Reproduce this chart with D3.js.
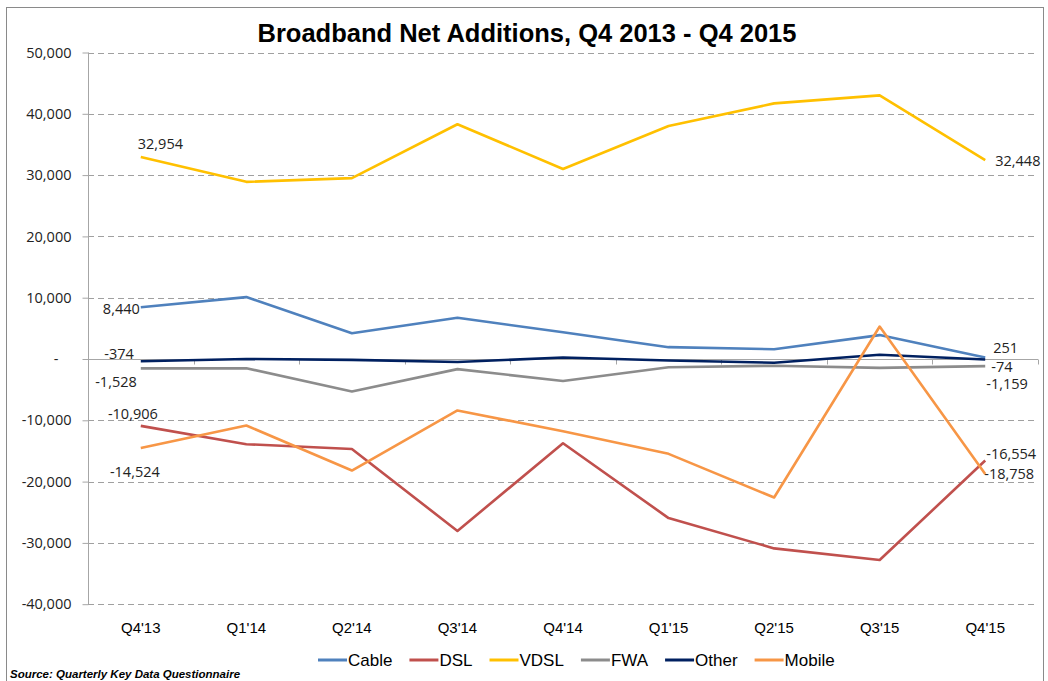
<!DOCTYPE html>
<html>
<head>
<meta charset="utf-8">
<script src="https://cdn.jsdelivr.net/npm/d3@7"></script>
<style>
  html, body { margin: 0; padding: 0; background: #fff; }
  svg { display: block; }
</style>
</head>
<body>
<svg id="chart" width="1048" height="681"></svg>
<script>
// ---------------- DATA ----------------
const categories = ["Q4'13", "Q1'14", "Q2'14", "Q3'14", "Q4'14", "Q1'15", "Q2'15", "Q3'15", "Q4'15"];
const cable  = [8440, 10100, 4200, 6720, 4370, 1930, 1600, 3900, 251];
const dsl    = [-10906, -13900, -14680, -28050, -13750, -25950, -30900, -32800, -16554];
const vdsl   = [32954, 28900, 29500, 38300, 31000, 38000, 41700, 43000, 32448];
const fwa    = [-1528, -1500, -5300, -1650, -3600, -1350, -1100, -1450, -1159];
const other  = [-374, 0, -150, -500, 250, -250, -600, 700, -74];
const mobile = [-14524, -10850, -18200, -8400, -11780, -15470, -22600, 5300, -18758];
const yTicks = [50000, 40000, 30000, 20000, 10000, 0, -10000, -20000, -30000, -40000];
const seriesNames = ["Cable", "DSL", "VDSL", "FWA", "Other", "Mobile"];
const titleText = "Broadband Net Additions, Q4 2013 - Q4 2015";
const sourceText = "Source: Quarterly Key Data Questionnaire";

const seriesValues = [cable, dsl, vdsl, fwa, other, mobile];
const colors = ["#4F81BD", "#C0504D", "#FFC000", "#8C8C8C", "#002060", "#F79646"];

// data label placement (style only): [seriesIndex, pointIndex, dx, dy, anchor]
const labelPlacement = [
  [2, 0, -3, -13, "start"],
  [0, 0, -1, 2, "end"],
  [4, 0, -7, -7, "end"],
  [3, 0, -4, 14, "end"],
  [1, 0, 17, -12, "end"],
  [5, 0, 19, 24, "end"],
  [2, 8, 10, 1, "start"],
  [0, 8, 8, -10, "start"],
  [4, 8, 6, 7, "start"],
  [3, 8, 1, 18, "start"],
  [1, 8, 1, -7, "start"],
  [5, 8, -1, 0, "start"]
];

const fmt = d3.formatLocale({ decimal: ".", thousands: ",", grouping: [3], currency: ["", ""], minus: "-" }).format(",");

// ---------------- LAYOUT ----------------
const svg = d3.select("#chart");
const plot = { left: 88, right: 1038, top: 52.5, bottom: 604.2 };

const x = d3.scaleBand().domain(categories).range([plot.left, plot.right]).padding(0);
const xc = c => x(c) + x.bandwidth() / 2;
const y = d3.scaleLinear().domain([-40000, 50000]).range([plot.bottom, plot.top]);

// chart border
svg.append("rect")
  .attr("x", 6.5).attr("y", 7.5).attr("width", 1037).attr("height", 690)
  .attr("fill", "none").attr("stroke", "#8a8a8a").attr("stroke-width", 1);

// title
svg.append("text")
  .attr("x", 527).attr("y", 42)
  .attr("text-anchor", "middle")
  .attr("font-family", "Liberation Sans, Arial, sans-serif")
  .attr("font-weight", "bold")
  .attr("font-size", 25.5)
  .attr("fill", "#000")
  .text(titleText);

// gridlines (dashed), except zero
svg.append("g").selectAll("line")
  .data(yTicks.filter(t => t !== 0))
  .join("line")
  .attr("x1", plot.left).attr("x2", plot.right)
  .attr("y1", d => Math.round(y(d)) + 0.5).attr("y2", d => Math.round(y(d)) + 0.5)
  .attr("stroke", "#a0a0a0").attr("stroke-width", 1.2)
  .attr("stroke-dasharray", "6,4");

// y axis
const yAxis = d3.axisLeft(y)
  .tickValues(yTicks)
  .tickSize(6)
  .tickPadding(11)
  .tickFormat(d => d === 0 ? "-" : fmt(d));
const gy = svg.append("g")
  .attr("transform", `translate(${plot.left + 0.5},0)`)
  .call(yAxis);
gy.select(".domain").attr("stroke", "#a6a6a6").attr("d", `M0,${plot.top}V${plot.bottom}`);
gy.selectAll(".tick line").attr("stroke", "#a6a6a6");
gy.selectAll(".tick text")
  .attr("font-family", "Open Sans, sans-serif")
  .attr("font-size", 14.5)
  .attr("fill", "#222");
gy.selectAll(".tick").filter(d => d === 0).select("text").attr("dx", -13);

// zero axis line with category boundary ticks
const y0 = Math.round(y(0)) + 0.5;
const gx = svg.append("g");
gx.append("line")
  .attr("x1", plot.left).attr("x2", plot.right)
  .attr("y1", y0).attr("y2", y0)
  .attr("stroke", "#a6a6a6").attr("stroke-width", 1.2);
const boundaries = categories.map(c => x(c)).concat([x(categories[categories.length - 1]) + x.bandwidth()]);
gx.selectAll("line.tk")
  .data(boundaries.slice(1))
  .join("line")
  .attr("class", "tk")
  .attr("x1", d => Math.round(d) + 0.5).attr("x2", d => Math.round(d) + 0.5)
  .attr("y1", y0).attr("y2", y0 + 5)
  .attr("stroke", "#a6a6a6");

// category labels
svg.append("g").selectAll("text")
  .data(categories)
  .join("text")
  .attr("x", d => xc(d))
  .attr("y", 633)
  .attr("text-anchor", "middle")
  .attr("font-family", "Liberation Sans, Arial, sans-serif")
  .attr("font-size", 15)
  .attr("fill", "#000")
  .text(d => d);

// lines
const line = d3.line().x((d, i) => xc(categories[i])).y(d => y(d));
svg.append("g").selectAll("path")
  .data(seriesValues)
  .join("path")
  .attr("d", d => line(d))
  .attr("fill", "none")
  .attr("stroke", (d, i) => colors[i])
  .attr("stroke-width", 2.6)
  .attr("stroke-linejoin", "round");

// data labels
svg.append("g").selectAll("text")
  .data(labelPlacement)
  .join("text")
  .attr("x", d => xc(categories[d[1]]) + d[2])
  .attr("y", d => y(seriesValues[d[0]][d[1]]) + d[3])
  .attr("dy", "0.35em")
  .attr("text-anchor", d => d[4])
  .attr("font-family", "Open Sans, sans-serif")
  .attr("font-size", 14.5)
  .attr("fill", "#222")
  .text(d => fmt(seriesValues[d[0]][d[1]]));

// legend
const legend = svg.append("g");
let lx = 318;
const ly = 660;
seriesNames.forEach((name, i) => {
  legend.append("line")
    .attr("x1", lx).attr("x2", lx + 29)
    .attr("y1", ly).attr("y2", ly)
    .attr("stroke", colors[i]).attr("stroke-width", 3);
  const t = legend.append("text")
    .attr("x", lx + 30).attr("y", ly)
    .attr("dy", "0.35em")
    .attr("font-family", "Liberation Sans Narrow, Liberation Sans, Arial, sans-serif")
    .attr("font-size", 17)
    .attr("fill", "#000")
    .text(name);
  lx += 30 + t.node().getComputedTextLength() + 17;
});

// source
svg.append("text")
  .attr("x", 10).attr("y", 678)
  .attr("font-family", "Liberation Sans Narrow, Liberation Sans, Arial, sans-serif")
  .attr("font-weight", "bold")
  .attr("font-style", "italic")
  .attr("font-size", 11.5)
  .attr("fill", "#000")
  .text(sourceText);
</script>
</body>
</html>
